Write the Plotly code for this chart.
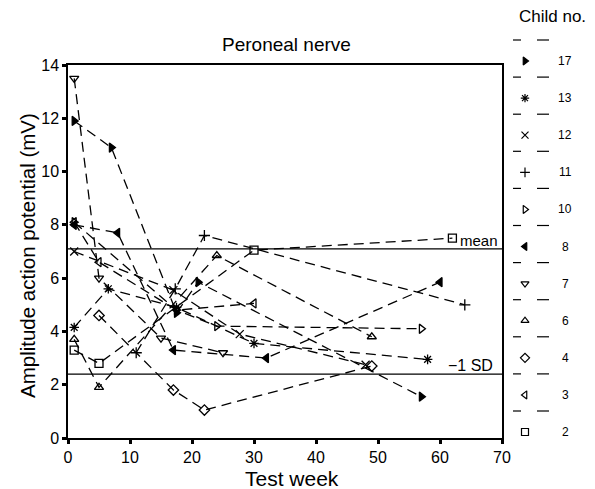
import plotly.graph_objects as go

# ---- data ----
child_labels = ["17", "13", "12", "11", "10", "8", "7", "6", "4", "3", "2"]

weeks_17 = [1, 7, 17.5, 21, 57]
amp_17 = [11.9, 10.9, 4.7, 5.85, 1.55]

weeks_13 = [1, 6.5, 17.5, 30, 58]
amp_13 = [4.15, 5.6, 4.9, 3.55, 2.95]

weeks_12 = [1, 17, 27.7, 48]
amp_12 = [7.0, 5.55, 3.9, 2.75]

weeks_11 = [11, 17.3, 22, 64]
amp_11 = [3.2, 5.6, 7.6, 5.0]

weeks_10 = [1, 17.5, 24, 57]
amp_10 = [8.1, 4.8, 4.2, 4.1]

weeks_8 = [1, 8, 17, 32, 60]
amp_8 = [8.0, 7.7, 3.3, 3.0, 5.85]

weeks_7 = [1, 5, 15, 25]
amp_7 = [13.5, 6.0, 3.75, 3.2]

weeks_6 = [1, 5, 24, 49]
amp_6 = [3.7, 1.9, 6.85, 3.8]

weeks_4 = [5, 17, 22, 49]
amp_4 = [4.6, 1.8, 1.05, 2.7]

weeks_3 = [1, 5, 17.5, 30]
amp_3 = [8.1, 6.6, 4.8, 5.05]

weeks_2 = [1, 5, 30, 62]
amp_2 = [3.3, 2.8, 7.05, 7.5]

mean_value = 7.1
minus_sd_value = 2.4

x_ticks = [0, 10, 20, 30, 40, 50, 60, 70]
y_ticks = [0, 2, 4, 6, 8, 10, 12, 14]

# ---- styling ----
symbols = {
    "17": "triangle-right", "13": "asterisk-open", "12": "x-thin-open",
    "11": "cross-thin-open", "10": "triangle-right-open", "8": "triangle-left",
    "7": "triangle-down-open", "6": "triangle-up-open", "4": "diamond-open",
    "3": "triangle-left-open", "2": "square-open",
}
series = {
    "17": (weeks_17, amp_17), "13": (weeks_13, amp_13), "12": (weeks_12, amp_12),
    "11": (weeks_11, amp_11), "10": (weeks_10, amp_10), "8": (weeks_8, amp_8),
    "7": (weeks_7, amp_7), "6": (weeks_6, amp_6), "4": (weeks_4, amp_4),
    "3": (weeks_3, amp_3), "2": (weeks_2, amp_2),
}

PAGE_W, PAGE_H = 595, 489
OFF = 8                      # default page body margin
W, H = PAGE_W - OFF, PAGE_H - OFF
PL, PR, PT, PB = 68, 502, 65, 438   # plot area in page pixels
FONT = "Liberation Sans, Arial, sans-serif"


def px_x(p):
    return (p - OFF) / W


def px_y(p):
    return 1 - (p - OFF) / H


fig = go.Figure()
for name in child_labels:
    xs, ys = series[name]
    fig.add_trace(go.Scatter(
        x=xs, y=ys, mode="lines+markers", name=name, showlegend=False,
        line=dict(color="black", width=1.3, dash="10px,6px"),
        marker=dict(symbol=symbols[name], size=8, color="black",
                    line=dict(color="black", width=1.3)),
        cliponaxis=False, xaxis="x", yaxis="y",
    ))

# ---- custom key on the right ----
row0, row_step = 61, 37.1
key_y = [row0 + row_step * i for i in range(len(child_labels))]
fig.add_trace(go.Scatter(
    x=[525] * len(child_labels), y=key_y, mode="markers", showlegend=False,
    marker=dict(symbol=[symbols[n] for n in child_labels], size=7, color="black",
                line=dict(color="black", width=1.2)),
    cliponaxis=False, xaxis="x2", yaxis="y2", hoverinfo="skip",
))
shapes = []
for ky in key_y:
    for (a, b) in [(513, 521), (537, 549)]:
        shapes.append(dict(type="line", xref="x2", yref="y2", x0=a, x1=b,
                           y0=ky - 21, y1=ky - 21, line=dict(color="black", width=1.2)))
annotations = []
for n, ky in zip(child_labels, key_y):
    annotations.append(dict(xref="x2", yref="y2", x=565, y=ky, text=n, showarrow=False,
                            xanchor="center", yanchor="middle",
                            font=dict(size=12, family=FONT, color="black")))

# mean / -1 SD reference lines
for val in [mean_value, minus_sd_value]:
    shapes.append(dict(type="line", xref="x", yref="y", x0=0, x1=70, y0=val, y1=val,
                       line=dict(color="black", width=1.2)))
annotations.append(dict(xref="x", yref="y", x=69.6, y=mean_value, text="mean",
                        xanchor="right", yanchor="middle", yshift=8, showarrow=False,
                        font=dict(size=15, family=FONT, color="black")))
annotations.append(dict(xref="x", yref="y", x=68.8, y=minus_sd_value, text="\u22121 SD",
                        xanchor="right", yanchor="middle", yshift=9, showarrow=False,
                        font=dict(size=16, family=FONT, color="black")))

# titles
annotations.append(dict(xref="paper", yref="paper", x=px_x(292), y=px_y(478),
                        xanchor="center", yanchor="middle",
                        text="Test week", showarrow=False,
                        font=dict(size=21, family=FONT, color="black")))
annotations.append(dict(xref="paper", yref="paper", x=px_x(27), y=px_y(256),
                        xanchor="center", yanchor="middle",
                        text="Amplitude action potential (mV)", textangle=-90,
                        showarrow=False, font=dict(size=20.5, family=FONT, color="black")))
annotations.append(dict(xref="paper", yref="paper", x=px_x(286), y=px_y(45),
                        xanchor="center", yanchor="middle",
                        text="Peroneal nerve", showarrow=False,
                        font=dict(size=19, family=FONT, color="black")))
annotations.append(dict(xref="paper", yref="paper", x=px_x(552), y=px_y(16),
                        xanchor="center", yanchor="middle",
                        text="Child no.", showarrow=False,
                        font=dict(size=17, family=FONT, color="black")))

axis_common = dict(showline=True, linecolor="black", linewidth=1.5, mirror=True,
                   ticks="outside", ticklen=4, tickwidth=2.5, tickcolor="black",
                   showgrid=False, zeroline=False, automargin=False,
                   tickfont=dict(size=16, family=FONT, color="black"))

fig.update_layout(
    width=W, height=H, margin=dict(l=0, r=0, t=0, b=0),
    paper_bgcolor="white", plot_bgcolor="white", template="none",
    xaxis=dict(domain=[px_x(PL), px_x(PR)], range=[0, 70], tickvals=x_ticks, **axis_common),
    yaxis=dict(domain=[px_y(PB), px_y(PT)], range=[0, 14], tickvals=y_ticks, **axis_common),
    xaxis2=dict(domain=[px_x(505), 1], range=[505, PAGE_W], visible=False, anchor="y2"),
    yaxis2=dict(domain=[0, 1], range=[PAGE_H, OFF], visible=False, anchor="x2"),
    shapes=shapes, annotations=annotations, showlegend=False,
)

fig.write_html("out.html")
